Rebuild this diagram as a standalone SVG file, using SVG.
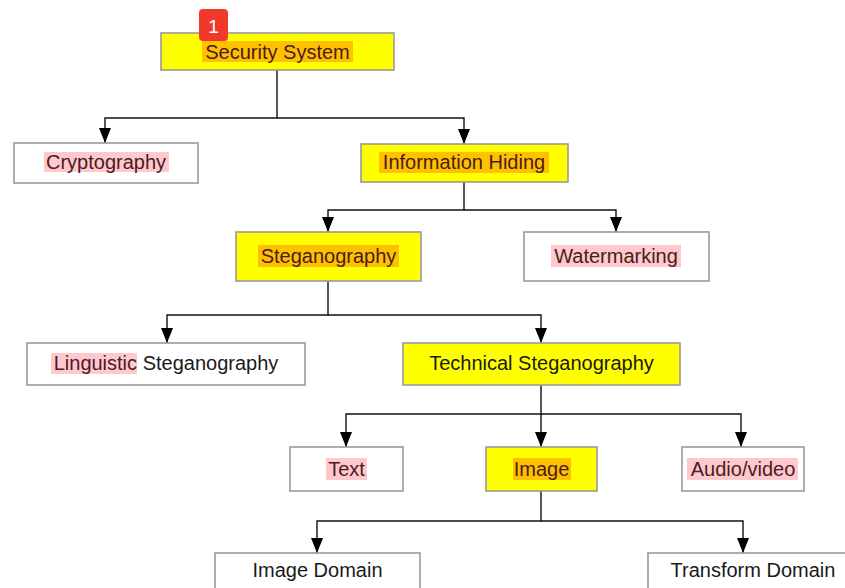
<svg xmlns="http://www.w3.org/2000/svg" width="845" height="588" viewBox="0 0 845 588">
<style>
.box{stroke:#9a9a9a;stroke-width:1.6}
.y{fill:#ffff00}
.w{fill:#ffffff}
.t{font-family:"Liberation Sans",Arial,sans-serif;font-size:20px;text-anchor:middle;fill:#1a1a1a}
.ht{fill:#4a1c1c}
.ho{fill:#ffc000}
.hp{fill:#ffc7ce}
.c{fill:none;stroke:#111;stroke-width:1.4}
</style>
<defs>
<marker id="ah" markerUnits="userSpaceOnUse" markerWidth="15" markerHeight="12" refX="15" refY="6" orient="auto">
<path d="M0 0 L15 6 L0 12 z" fill="#000"/>
</marker>
</defs>
<rect width="845" height="588" fill="#fff"/>
<g id="connectors">
<path class="c" d="M277 70 V118 H105 V143" marker-end="url(#ah)"/>
<path class="c" d="M277 118 H464 V144" marker-end="url(#ah)"/>
<path class="c" d="M464 182 V210 H328 V232" marker-end="url(#ah)"/>
<path class="c" d="M464 210 H616 V232" marker-end="url(#ah)"/>
<path class="c" d="M328 281 V315 H167 V343" marker-end="url(#ah)"/>
<path class="c" d="M328 315 H541 V343" marker-end="url(#ah)"/>
<path class="c" d="M541 385 V414 H346 V447" marker-end="url(#ah)"/>
<path class="c" d="M541 414 V447" marker-end="url(#ah)"/>
<path class="c" d="M541 414 H741 V447" marker-end="url(#ah)"/>
<path class="c" d="M541 491 V521 H317 V553" marker-end="url(#ah)"/>
<path class="c" d="M541 521 H743 V553" marker-end="url(#ah)"/>
</g>
<g id="security-system">
<rect class="box y" x="161" y="33" width="233" height="37"/>
<rect class="ho" x="202" y="41" width="151" height="21"/>
<text class="t ht" x="277.5" y="58.5">Security System</text>
</g>
<g id="badge">
<rect x="199" y="9" width="29" height="32" rx="4" fill="#f0392b"/>
<text x="213.5" y="32.5" style="font-family:'Liberation Sans',Arial,sans-serif;font-size:19px;fill:#fff;text-anchor:middle">1</text>
</g>
<g id="cryptography">
<rect class="box w" x="14" y="143" width="184" height="40"/>
<rect class="hp" x="44" y="152" width="125" height="20"/>
<text class="t ht" x="106" y="169">Cryptography</text>
</g>
<g id="information-hiding">
<rect class="box y" x="361" y="144" width="207" height="38"/>
<rect class="ho" x="379" y="152" width="170" height="21"/>
<text class="t ht" x="464" y="169">Information Hiding</text>
</g>
<g id="steganography">
<rect class="box y" x="236" y="232" width="185" height="49"/>
<rect class="ho" x="258" y="245" width="141" height="22"/>
<text class="t ht" x="328.5" y="263">Steganography</text>
</g>
<g id="watermarking">
<rect class="box w" x="524" y="232" width="185" height="49"/>
<rect class="hp" x="551" y="245" width="130" height="22"/>
<text class="t ht" x="616" y="263">Watermarking</text>
</g>
<g id="linguistic-steganography">
<rect class="box w" x="27" y="343" width="278" height="42"/>
<rect class="hp" x="51" y="353" width="86" height="21"/>
<text class="t" x="166" y="370"><tspan class="ht">Linguistic</tspan> Steganography</text>
</g>
<g id="technical-steganography">
<rect class="box y" x="403" y="343" width="277" height="42"/>
<text class="t" x="541.5" y="370">Technical Steganography</text>
</g>
<g id="text">
<rect class="box w" x="290" y="447" width="113" height="44"/>
<rect class="hp" x="326" y="458" width="41" height="22"/>
<text class="t ht" x="346.5" y="475.5">Text</text>
</g>
<g id="image">
<rect class="box y" x="486" y="447" width="111" height="44"/>
<rect class="ho" x="513" y="458" width="58" height="22"/>
<text class="t ht" x="541.5" y="475.5">Image</text>
</g>
<g id="audio-video">
<rect class="box w" x="682" y="447" width="122" height="44"/>
<rect class="hp" x="687" y="458" width="111" height="22"/>
<text class="t ht" x="743" y="475.5">Audio/video</text>
</g>
<g id="image-domain">
<rect class="box w" x="215" y="553" width="205" height="45"/>
<text class="t" x="317.5" y="577">Image Domain</text>
</g>
<g id="transform-domain">
<rect class="box w" x="648" y="553" width="205" height="45"/>
<text class="t" x="753" y="577">Transform Domain</text>
</g>
</svg>
